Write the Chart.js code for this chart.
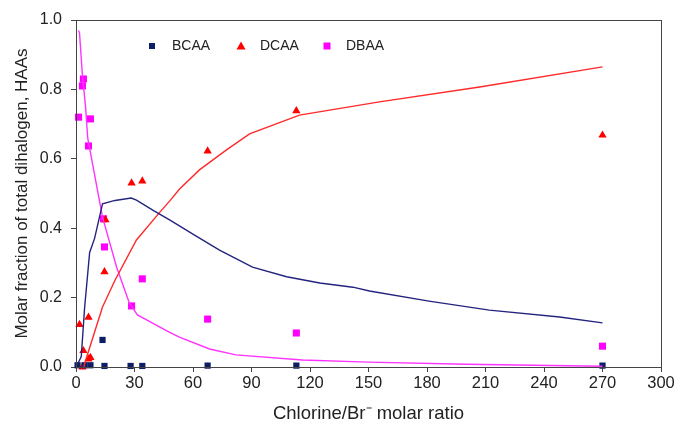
<!DOCTYPE html>
<html>
<head>
<meta charset="utf-8">
<script src="https://cdn.jsdelivr.net/npm/chart.js@4/dist/chart.umd.min.js"></script>
<style>
  html, body { margin: 0; padding: 0; background: #fff; }
  #wrap { width: 679px; height: 425px; }
</style>
</head>
<body>
<div id="wrap"><canvas id="haaChart"></canvas></div>
<script>
// measured points (Chlorine/Br- molar ratio, molar fraction)
const bcaaX = [0.8, 4.4, 7.4, 13.6, 14.6, 28, 34, 67.5, 113, 270];
const bcaaY = [0.005, 0.005, 0.005, 0.078, 0.003, 0.003, 0.003, 0.004, 0.004, 0.004];

const dcaaX = [1.8, 3.3, 3.8, 6.4, 6.4, 7.4, 14.6, 15.1, 28.5, 34, 67.5, 113, 270];
const dcaaY = [0.122, 0.0, 0.047, 0.143, 0.023, 0.027, 0.274, 0.424, 0.53, 0.536, 0.622, 0.738, 0.668];

const dbaaX = [1.3, 3.3, 3.8, 6.4, 7.4, 14.1, 14.6, 28.5, 34, 67.5, 113, 270];
const dbaaY = [0.72, 0.81, 0.83, 0.637, 0.715, 0.427, 0.346, 0.176, 0.254, 0.138, 0.098, 0.06];

// model curves
const bcaaFitX = [1, 2.7, 4.4, 7, 9.5, 13.6, 20, 28.3, 31, 40, 48, 60.8, 73.6, 90.5, 108, 125, 142, 150.5, 181, 212, 248, 270];
const bcaaFitY = [0.01, 0.03, 0.17, 0.33, 0.37, 0.47, 0.48, 0.487, 0.481, 0.45, 0.424, 0.38, 0.337, 0.288, 0.26, 0.242, 0.23, 0.219, 0.19, 0.164, 0.144, 0.127];

const dcaaFitX = [4, 5, 13.6, 20, 31, 42.8, 48, 53, 63.3, 77, 89, 114.6, 155.6, 207, 270];
const dcaaFitY = [0, 0.02, 0.173, 0.25, 0.366, 0.445, 0.478, 0.512, 0.568, 0.625, 0.672, 0.726, 0.764, 0.807, 0.865];

const dbaaFitX = [1.3, 1.8, 3.3, 4.9, 6, 13.6, 20.8, 27.4, 31.5, 48, 53, 68.5, 82, 116, 150, 200, 270];
const dbaaFitY = [0.97, 0.963, 0.84, 0.75, 0.66, 0.432, 0.288, 0.184, 0.15, 0.1, 0.086, 0.052, 0.035, 0.02, 0.014, 0.008, 0.002];

const xTicks = [0, 30, 60, 90, 120, 150, 180, 210, 240, 270, 300];
const yTicks = [0, 0.2, 0.4, 0.6, 0.8, 1.0];

const legendItems = ['BCAA', 'DCAA', 'DBAA'];

const NAVY = '#0c1f66';
const RED = '#ff0000';
const MAGENTA = '#ff00ff';
const FONT = 'Arial, "Liberation Sans", sans-serif';

function zip(xs, ys) {
    return xs.map((x, i) => ({ x: x, y: ys[i] }));
}

function fitLine(xs, ys, color) {
    return {
        data: zip(xs, ys),
        showLine: true,
        borderColor: color,
        borderWidth: 1.4,
        pointRadius: 0,
        tension: 0,
        fill: false
    };
}

// box round the plot + legend inside the plot
const framePlugin = {
    id: 'frame',
    afterDraw(chart) {
        const ctx = chart.ctx;
        const a = chart.chartArea;
        ctx.save();
        ctx.strokeStyle = '#444';
        ctx.lineWidth = 1;
        ctx.strokeRect(a.left + 0.5, a.top + 0.5, a.right - a.left, a.bottom - a.top);

        const y = 46;
        ctx.font = '14px ' + FONT;
        ctx.fillStyle = '#222';
        ctx.textBaseline = 'middle';
        // BCAA
        ctx.fillStyle = NAVY;
        ctx.fillRect(149, y - 3, 6, 6);
        ctx.fillStyle = '#222';
        ctx.fillText(legendItems[0], 172, y);
        // DCAA
        ctx.fillStyle = RED;
        ctx.beginPath();
        ctx.moveTo(241, y - 4.5);
        ctx.lineTo(245.5, y + 3.5);
        ctx.lineTo(236.5, y + 3.5);
        ctx.closePath();
        ctx.fill();
        ctx.fillStyle = '#222';
        ctx.fillText(legendItems[1], 260, y);
        // DBAA
        ctx.fillStyle = MAGENTA;
        ctx.fillRect(323.5, y - 3.5, 7, 7);
        ctx.fillStyle = '#222';
        ctx.fillText(legendItems[2], 346, y);
        ctx.restore();
    }
};

const ctx = document.getElementById('haaChart');

new Chart(ctx, {
    type: 'scatter',
    data: {
        datasets: [
            fitLine(bcaaFitX, bcaaFitY, '#24247f'),
            fitLine(dcaaFitX, dcaaFitY, '#ff2a2a'),
            fitLine(dbaaFitX, dbaaFitY, '#ff33ff'),
            {
                data: zip(bcaaX, bcaaY),
                pointStyle: 'rect',
                pointRadius: 4.4,
                backgroundColor: NAVY,
                borderWidth: 0,
                clip: false
            },
            {
                data: zip(dcaaX, dcaaY),
                pointStyle: 'triangle',
                pointRadius: 4.8,
                backgroundColor: RED,
                borderWidth: 0,
                clip: false
            },
            {
                data: zip(dbaaX, dbaaY),
                pointStyle: 'rect',
                pointRadius: 5,
                backgroundColor: MAGENTA,
                borderWidth: 0,
                clip: false
            }
        ]
    },
    options: {
        responsive: true,
        maintainAspectRatio: false,
        animation: false,
        layout: {
            padding: { top: 20, right: 18, left: 0, bottom: 0 }
        },
        plugins: {
            legend: { display: false },
            tooltip: { enabled: false }
        },
        scales: {
            x: {
                type: 'linear',
                min: 0,
                max: 300,
                afterBuildTicks: (scale) => { scale.ticks = xTicks.map(v => ({ value: v })); },
                afterFit: (scale) => { scale.height = 58; },
                grid: { drawOnChartArea: false, tickLength: 5, color: '#444' },
                border: { color: '#444' },
                ticks: {
                    color: '#222',
                    font: { family: FONT, size: 16.5 },
                    padding: 2,
                    maxRotation: 0
                },
                title: {
                    display: true,
                    text: 'Chlorine/Br\u207B molar ratio',
                    color: '#222',
                    font: { family: FONT, size: 18.5 },
                    padding: { top: 0, bottom: 0 }
                }
            },
            y: {
                type: 'linear',
                min: 0,
                max: 1,
                afterBuildTicks: (scale) => { scale.ticks = yTicks.map(v => ({ value: v })); },
                afterFit: (scale) => { scale.width = 76; },
                grid: { drawOnChartArea: false, tickLength: 5, color: '#444' },
                border: { color: '#444' },
                ticks: {
                    color: '#222',
                    font: { family: FONT, size: 16 },
                    padding: 9,
                    callback: (v) => v.toFixed(1)
                },
                title: {
                    display: true,
                    text: 'Molar fraction of total dihalogen, HAAs',
                    color: '#222',
                    font: { family: FONT, size: 17 },
                    padding: { top: 12, bottom: 4 }
                }
            }
        }
    },
    plugins: [framePlugin]
});
</script>
</body>
</html>
